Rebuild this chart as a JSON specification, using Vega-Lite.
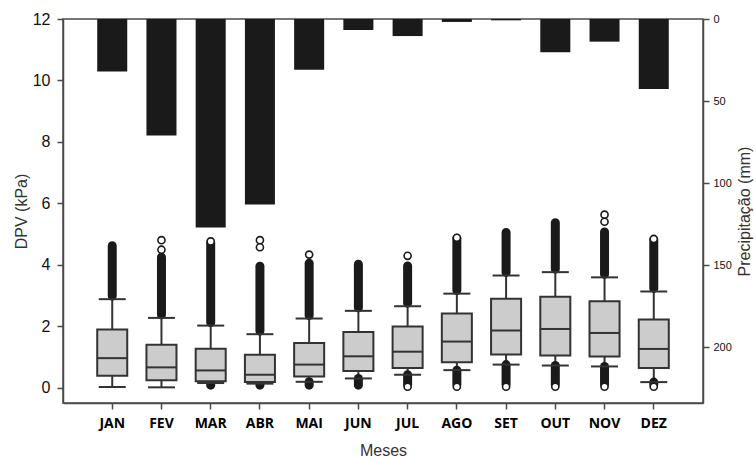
{
  "$schema": "https://vega.github.io/schema/vega-lite/v6.json",
  "width": 640,
  "height": 384,
  "autosize": {"type": "none"},
  "padding": {"left": 63, "top": 19, "right": 53, "bottom": 54},
  "config": {
    "view": {"stroke": "#4a4a4a", "strokeWidth": 1.5},
    "axis": {"grid": false, "domainColor": "#4a4a4a", "domainWidth": 1.5, "tickColor": "#4a4a4a", "tickWidth": 1.5, "tickSize": 6, "labelColor": "#111", "titleColor": "#333", "labelFont": "Liberation Sans", "titleFont": "Liberation Sans", "titleFontWeight": "normal"}
  },
  "datasets": {
    "box": [
      {"m": "JAN", "q1": 0.39, "med": 0.96, "q3": 1.89, "wlo": 0.02, "whi": 2.88, "ulo": 2.98, "uhi": 4.62, "llo": null, "lhi": null, "p": 32},
      {"m": "FEV", "q1": 0.24, "med": 0.66, "q3": 1.40, "wlo": 0.01, "whi": 2.27, "ulo": 2.37, "uhi": 4.25, "llo": null, "lhi": null, "p": 71},
      {"m": "MAR", "q1": 0.21, "med": 0.56, "q3": 1.27, "wlo": 0.15, "whi": 2.02, "ulo": 2.12, "uhi": 4.72, "llo": 0.08, "lhi": 0.15, "p": 127},
      {"m": "ABR", "q1": 0.18, "med": 0.42, "q3": 1.07, "wlo": 0.13, "whi": 1.74, "ulo": 1.84, "uhi": 3.95, "llo": 0.08, "lhi": 0.13, "p": 113},
      {"m": "MAI", "q1": 0.36, "med": 0.75, "q3": 1.45, "wlo": 0.19, "whi": 2.25, "ulo": 2.35, "uhi": 4.05, "llo": 0.08, "lhi": 0.19, "p": 31},
      {"m": "JUN", "q1": 0.54, "med": 1.02, "q3": 1.81, "wlo": 0.30, "whi": 2.50, "ulo": 2.60, "uhi": 4.02, "llo": 0.08, "lhi": 0.30, "p": 6.7},
      {"m": "JUL", "q1": 0.64, "med": 1.17, "q3": 1.99, "wlo": 0.42, "whi": 2.65, "ulo": 2.75, "uhi": 3.96, "llo": 0.1, "lhi": 0.42, "p": 10.4},
      {"m": "AGO", "q1": 0.83, "med": 1.50, "q3": 2.41, "wlo": 0.57, "whi": 3.06, "ulo": 3.16, "uhi": 4.86, "llo": 0.1, "lhi": 0.57, "p": 1.8},
      {"m": "SET", "q1": 1.08, "med": 1.86, "q3": 2.89, "wlo": 0.75, "whi": 3.65, "ulo": 3.75, "uhi": 5.05, "llo": 0.1, "lhi": 0.75, "p": 0.8},
      {"m": "OUT", "q1": 1.05, "med": 1.91, "q3": 2.96, "wlo": 0.72, "whi": 3.76, "ulo": 3.86, "uhi": 5.37, "llo": 0.1, "lhi": 0.72, "p": 20.3},
      {"m": "NOV", "q1": 1.01, "med": 1.78, "q3": 2.81, "wlo": 0.69, "whi": 3.59, "ulo": 3.69, "uhi": 5.07, "llo": 0.1, "lhi": 0.69, "p": 13.8},
      {"m": "DEZ", "q1": 0.64, "med": 1.26, "q3": 2.22, "wlo": 0.18, "whi": 3.13, "ulo": 3.23, "uhi": 4.82, "llo": 0.1, "lhi": 0.18, "p": 42.7}
    ],
    "circ": [
      {"m": "FEV", "v": 4.80}, {"m": "FEV", "v": 4.49},
      {"m": "ABR", "v": 4.80}, {"m": "ABR", "v": 4.57},
      {"m": "MAI", "v": 4.33}, {"m": "JUL", "v": 4.29},
      {"m": "NOV", "v": 5.63}, {"m": "NOV", "v": 5.40},
      {"m": "MAR", "v": 4.76}, {"m": "AGO", "v": 4.88}, {"m": "DEZ", "v": 4.84},
      {"m": "JUL", "v": 0.03}, {"m": "AGO", "v": 0.03}, {"m": "SET", "v": 0.03},
      {"m": "OUT", "v": 0.03}, {"m": "NOV", "v": 0.03}, {"m": "DEZ", "v": 0.03}
    ]
  },
  "encoding": {
    "x": {
      "field": "m", "type": "nominal", "sort": null,
      "scale": {"paddingInner": 0.39, "paddingOuter": 0.695},
      "axis": {"title": "Meses", "labelAngle": 0, "labelFont": "Open Sans", "labelFontWeight": "bold", "labelFontSize": 14, "labelPadding": 7, "labelColor": "#000", "titleFontSize": 16, "titleY": 47, "titleBaseline": "middle", "domain": true}
    }
  },
  "layer": [
    {
      "data": {"name": "box"},
      "mark": {"type": "bar", "color": "#1a1a1a"},
      "encoding": {
        "y": {"field": "p", "type": "quantitative", "scale": {"domain": [0, 234], "reverse": true, "nice": false, "zero": false},
          "axis": {"orient": "right", "title": "Precipitação (mm)", "values": [0, 50, 100, 150, 200], "labelFontSize": 11, "labelPadding": 4, "titleFontSize": 16, "titleAngle": 270, "titleX": 41, "titleY": 192, "titleBaseline": "middle"}},
        "y2": {"datum": 0}
      }
    },
    {
      "layer": [
        {
          "data": {"name": "box"},
          "mark": {"type": "rule", "stroke": "#333", "strokeWidth": 2},
          "encoding": {
            "y": {"field": "wlo", "type": "quantitative", "scale": {"domain": [-0.5, 12], "nice": false, "zero": false},
              "axis": {"orient": "left", "title": "DPV (kPa)", "values": [0, 2, 4, 6, 8, 10, 12], "labelFontSize": 16, "labelPadding": 7, "titleFontSize": 16, "titleAngle": 270, "titleX": -42, "titleY": 192, "titleBaseline": "middle"}},
            "y2": {"field": "whi"}
          }
        },
        {
          "data": {"name": "box"},
          "mark": {"type": "rule", "stroke": "#1a1a1a", "strokeWidth": 9, "strokeCap": "round"},
          "encoding": {"y": {"field": "ulo", "type": "quantitative"}, "y2": {"field": "uhi"}}
        },
        {
          "data": {"name": "box"},
          "transform": [{"filter": "datum.llo != null"}],
          "mark": {"type": "rule", "stroke": "#1a1a1a", "strokeWidth": 9, "strokeCap": "round"},
          "encoding": {"y": {"field": "llo", "type": "quantitative"}, "y2": {"field": "lhi"}}
        },
        {
          "data": {"name": "box"},
          "mark": {"type": "bar", "fill": "#cccccc", "stroke": "#333", "strokeWidth": 2},
          "encoding": {"y": {"field": "q1", "type": "quantitative"}, "y2": {"field": "q3"}}
        },
        {
          "data": {"name": "box"},
          "mark": {"type": "tick", "color": "#333", "opacity": 1, "thickness": 2, "size": 30},
          "encoding": {"y": {"field": "med", "type": "quantitative"}}
        },
        {
          "data": {"name": "box"},
          "mark": {"type": "tick", "color": "#333", "opacity": 1, "thickness": 2, "size": 27},
          "encoding": {"y": {"field": "whi", "type": "quantitative"}}
        },
        {
          "data": {"name": "box"},
          "mark": {"type": "tick", "color": "#333", "opacity": 1, "thickness": 2, "size": 27},
          "encoding": {"y": {"field": "wlo", "type": "quantitative"}}
        },
        {
          "data": {"name": "circ"},
          "mark": {"type": "point", "shape": "circle", "filled": false, "fill": "white", "fillOpacity": 1, "stroke": "#1a1a1a", "strokeWidth": 1.6, "size": 50, "opacity": 1},
          "encoding": {"y": {"field": "v", "type": "quantitative"}}
        }
      ]
    }
  ],
  "resolve": {"scale": {"y": "independent"}}
}
